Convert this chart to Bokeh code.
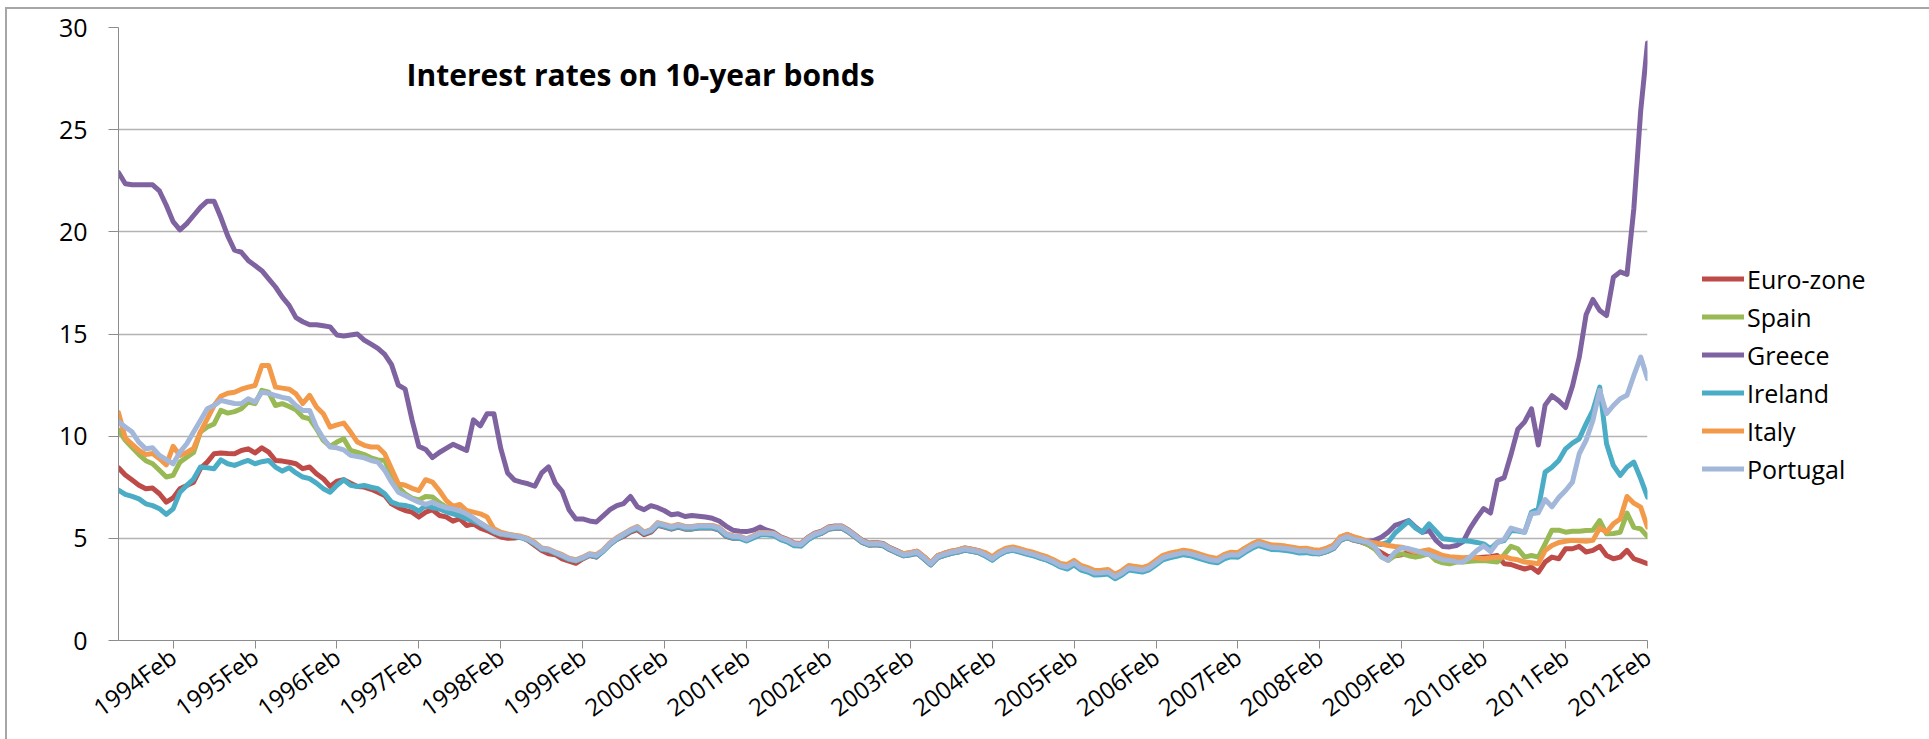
import pandas as pd
from bokeh.plotting import figure
from bokeh.models import Legend, LegendItem, Label, FixedTicker, Range1d
from bokeh.embed import file_html
from bokeh.resources import INLINE

# ---------------- data (monthly, 1993 Jun .. 2012 Feb) ----------------
months = [p.strftime("%Y%b") for p in pd.period_range("1993-06", "2012-02", freq="M")]

euro_zone = [
    8.45, 8.1, 7.85, 7.6, 7.43, 7.46, 7.18,
    6.77, 6.98, 7.43, 7.59, 7.75, 8.41, 8.73, 9.14, 9.18, 9.15, 9.14, 9.3,
    9.38, 9.18, 9.43, 9.22, 8.81, 8.78, 8.72, 8.65, 8.41, 8.49, 8.16, 7.92,
    7.54, 7.8, 7.87, 7.7, 7.54, 7.51, 7.4, 7.26, 7.1, 6.69, 6.5, 6.36,
    6.28, 6.04, 6.28, 6.4, 6.12, 6.05, 5.84, 5.96, 5.63, 5.71, 5.5, 5.38,
    5.22, 5.06, 5.0, 5.02, 5.06, 4.89, 4.65, 4.4, 4.24, 4.2, 3.99, 3.88,
    3.78, 3.99, 4.16, 4.08, 4.4, 4.7, 4.95, 5.1, 5.3, 5.42, 5.18, 5.3,
    5.64, 5.55, 5.45, 5.55, 5.45, 5.45, 5.5, 5.5, 5.5, 5.4, 5.1, 5.0,
    5.02, 4.89, 5.04, 5.19, 5.19, 5.16, 4.96, 4.84, 4.66, 4.64, 4.94, 5.14,
    5.24, 5.44, 5.49, 5.49, 5.29, 5.04, 4.79, 4.66, 4.69, 4.64, 4.44, 4.29,
    4.15, 4.2, 4.27, 4.0, 3.7, 4.05, 4.17, 4.27, 4.33, 4.43, 4.37, 4.3,
    4.15, 3.95, 4.2, 4.37, 4.43, 4.35, 4.25, 4.17, 4.05, 3.95, 3.8, 3.62,
    3.55, 3.75, 3.5, 3.4, 3.25, 3.27, 3.3, 3.07, 3.25, 3.5, 3.45, 3.4,
    3.51, 3.75, 4.0, 4.1, 4.17, 4.25, 4.2, 4.1, 4.0, 3.9, 3.85, 4.05,
    4.15, 4.13, 4.35, 4.55, 4.7, 4.6, 4.5, 4.49, 4.45, 4.4, 4.33, 4.35,
    4.27, 4.25, 4.35, 4.5, 4.9, 5.03, 4.9, 4.83, 4.7, 4.5, 4.3, 4.1,
    4.15, 4.2, 4.3, 4.25, 4.2, 4.25, 4.1, 3.95, 3.9, 3.95, 4.0, 4.05,
    4.05, 4.08, 4.1, 4.16, 3.76, 3.72, 3.6, 3.5, 3.59, 3.34, 3.84, 4.08,
    4.0, 4.49, 4.49, 4.61, 4.33, 4.41, 4.61, 4.16, 4.0, 4.08, 4.41, 4.0,
    3.88, 3.76,
]

spain = [
    10.3, 9.8, 9.45, 9.1, 8.8, 8.65, 8.33,
    8.0, 8.08, 8.73, 8.97, 9.2, 10.2, 10.45, 10.6, 11.26, 11.13, 11.2, 11.34,
    11.67, 11.59, 12.24, 12.15, 11.5, 11.59, 11.45, 11.29, 10.93, 10.85, 10.36, 9.79,
    9.5, 9.71, 9.87, 9.3, 9.2, 9.1, 8.94, 8.84, 8.81, 8.08, 7.5, 7.18,
    6.97, 6.88, 7.05, 7.02, 6.75, 6.53, 6.35, 6.28, 6.15, 5.95, 5.75, 5.55,
    5.33, 5.2, 5.16, 5.1, 5.04, 4.93, 4.73, 4.48, 4.43, 4.28, 4.14, 3.98,
    3.9, 4.03, 4.2, 4.14, 4.38, 4.73, 4.98, 5.18, 5.38, 5.53, 5.26, 5.38,
    5.72, 5.63, 5.53, 5.63, 5.53, 5.53, 5.58, 5.58, 5.58, 5.48, 5.18, 5.08,
    5.06, 4.93, 5.08, 5.23, 5.23, 5.2, 5.0, 4.88, 4.7, 4.68, 4.98, 5.18,
    5.28, 5.48, 5.53, 5.53, 5.33, 5.08, 4.83, 4.7, 4.73, 4.68, 4.48, 4.33,
    4.18, 4.23, 4.3, 4.03, 3.73, 4.08, 4.2, 4.3, 4.36, 4.46, 4.4, 4.33,
    4.18, 3.98, 4.23, 4.4, 4.46, 4.38, 4.28, 4.2, 4.08, 3.98, 3.83, 3.65,
    3.58, 3.78, 3.53, 3.43, 3.28, 3.3, 3.33, 3.1, 3.28, 3.53, 3.48, 3.43,
    3.54, 3.78, 4.03, 4.13, 4.2, 4.28, 4.23, 4.13, 4.03, 3.93, 3.88, 4.08,
    4.18, 4.16, 4.38, 4.58, 4.73, 4.63, 4.53, 4.52, 4.48, 4.43, 4.36, 4.38,
    4.3, 4.28, 4.38, 4.53, 4.93, 5.05, 4.92, 4.85, 4.7, 4.5, 4.1, 3.92,
    4.16, 4.24, 4.15, 4.08, 4.15, 4.24, 3.92, 3.8, 3.75, 3.84, 3.84, 3.88,
    3.9, 3.92, 3.88, 3.84, 4.2, 4.61, 4.49, 4.08, 4.16, 4.08, 4.73, 5.4,
    5.4, 5.3, 5.35, 5.35, 5.38, 5.4, 5.87, 5.22, 5.24, 5.3, 6.23, 5.54,
    5.46, 5.09,
]

greece = [
    22.9, 22.35, 22.3, 22.3, 22.3, 22.3, 22.0,
    21.3, 20.5, 20.1, 20.4, 20.8, 21.2, 21.5, 21.5, 20.7, 19.8, 19.1, 19.0,
    18.6, 18.35, 18.1, 17.7, 17.3, 16.8, 16.4, 15.8, 15.6, 15.45, 15.45, 15.4,
    15.35, 14.95, 14.9, 14.95, 15.0, 14.7, 14.5, 14.3, 14.0, 13.5, 12.5, 12.3,
    10.8, 9.5, 9.35, 8.95, 9.2, 9.4, 9.6, 9.45, 9.3, 10.8, 10.5, 11.1,
    11.1, 9.4, 8.2, 7.85, 7.75, 7.67, 7.55, 8.2, 8.5, 7.7, 7.3, 6.4,
    5.95, 5.95, 5.85, 5.8, 6.1, 6.4, 6.6, 6.7, 7.05, 6.55, 6.4, 6.6,
    6.5, 6.35, 6.15, 6.2, 6.07, 6.12, 6.08, 6.04, 5.98, 5.85, 5.6, 5.4,
    5.35, 5.33, 5.4, 5.55, 5.4, 5.3, 5.07, 4.95, 4.77, 4.75, 5.05, 5.25,
    5.35, 5.55, 5.6, 5.6, 5.4, 5.15, 4.9, 4.77, 4.8, 4.75, 4.55, 4.4,
    4.25, 4.3, 4.37, 4.1, 3.8, 4.15, 4.27, 4.37, 4.43, 4.53, 4.47, 4.4,
    4.26, 4.06, 4.31, 4.48, 4.54, 4.46, 4.36, 4.28, 4.16, 4.06, 3.91, 3.73,
    3.67, 3.87, 3.62, 3.52, 3.37, 3.39, 3.42, 3.2, 3.38, 3.63, 3.58, 3.53,
    3.64, 3.88, 4.13, 4.23, 4.3, 4.38, 4.33, 4.23, 4.13, 4.03, 3.98, 4.18,
    4.28, 4.26, 4.48, 4.68, 4.83, 4.73, 4.63, 4.62, 4.58, 4.53, 4.46, 4.48,
    4.42, 4.4, 4.5, 4.65, 5.05, 5.18, 5.05, 4.95, 4.85, 4.9, 5.05, 5.3,
    5.63, 5.75, 5.87, 5.55, 5.3, 5.38, 4.9, 4.6, 4.58, 4.65, 4.84, 5.49,
    6.0, 6.46, 6.24, 7.83, 7.97, 9.1, 10.34, 10.7, 11.34, 9.57, 11.52, 11.98,
    11.73, 11.4, 12.44, 13.86, 15.94, 16.69, 16.15, 15.9, 17.78, 18.04, 17.92, 21.14,
    25.91, 29.24,
]

ireland = [
    7.36, 7.15, 7.05, 6.93, 6.69, 6.6, 6.45,
    6.17, 6.44, 7.26, 7.59, 7.9, 8.49, 8.45, 8.41, 8.84, 8.65, 8.57, 8.7,
    8.81, 8.65, 8.75, 8.81, 8.49, 8.29, 8.45, 8.2, 8.0, 7.92, 7.7, 7.43,
    7.26, 7.6, 7.87, 7.6, 7.54, 7.59, 7.5, 7.43, 7.18, 6.77, 6.65, 6.61,
    6.53, 6.33, 6.61, 6.5, 6.44, 6.3, 6.2, 6.1, 5.95, 5.85, 5.7, 5.5,
    5.32, 5.2, 5.15, 5.1, 5.03, 4.92, 4.72, 4.47, 4.42, 4.27, 4.12, 3.97,
    3.9, 4.03, 4.18, 4.1, 4.35, 4.7, 4.95, 5.15, 5.35, 5.5, 5.24, 5.35,
    5.66, 5.57, 5.47, 5.57, 5.47, 5.47, 5.52, 5.52, 5.52, 5.42, 5.12, 5.02,
    5.0, 4.87, 5.02, 5.17, 5.17, 5.14, 4.94, 4.82, 4.64, 4.62, 4.92, 5.12,
    5.25, 5.45, 5.5, 5.5, 5.3, 5.05, 4.8, 4.67, 4.7, 4.65, 4.45, 4.3,
    4.15, 4.2, 4.27, 4.0, 3.7, 4.05, 4.17, 4.27, 4.33, 4.43, 4.37, 4.3,
    4.13, 3.93, 4.18, 4.35, 4.41, 4.33, 4.23, 4.15, 4.03, 3.93, 3.78, 3.6,
    3.5, 3.7, 3.45, 3.35, 3.2, 3.22, 3.25, 3.02, 3.2, 3.45, 3.4, 3.35,
    3.46, 3.7, 3.95, 4.05, 4.12, 4.2, 4.15, 4.05, 3.95, 3.85, 3.8, 4.0,
    4.1, 4.08, 4.3, 4.5, 4.65, 4.55, 4.45, 4.44, 4.4, 4.35, 4.28, 4.3,
    4.25, 4.25, 4.35, 4.5, 4.9, 5.05, 4.92, 4.85, 4.8, 4.75, 4.7, 4.81,
    5.25, 5.55, 5.84, 5.5, 5.3, 5.71, 5.35, 4.98, 4.94, 4.9, 4.88, 4.86,
    4.8, 4.73, 4.49, 4.81, 4.89, 5.38, 5.36, 5.3, 6.28, 6.44, 8.24, 8.48,
    8.81, 9.38, 9.66, 9.87, 10.6, 11.26, 12.4, 9.63, 8.57, 8.08, 8.49, 8.73,
    7.92, 7.02,
]

italy = [
    11.15, 9.9, 9.6, 9.3, 9.1, 9.15, 8.9,
    8.6, 9.5, 9.06, 9.2, 9.4, 10.2, 10.85, 11.5, 11.95, 12.1, 12.15, 12.3,
    12.4, 12.48, 13.46, 13.46, 12.4, 12.35, 12.3, 12.07, 11.6, 12.0, 11.43, 11.1,
    10.44, 10.55, 10.64, 10.2, 9.71, 9.55, 9.47, 9.47, 9.14, 8.4, 7.67, 7.6,
    7.45, 7.34, 7.87, 7.75, 7.34, 6.86, 6.56, 6.66, 6.36, 6.28, 6.2, 6.04,
    5.47, 5.3, 5.22, 5.15, 5.1, 5.0, 4.8, 4.53, 4.48, 4.33, 4.2, 4.03,
    3.95, 4.08, 4.25, 4.2, 4.43, 4.78, 5.03, 5.23, 5.43, 5.58, 5.3, 5.43,
    5.77, 5.68, 5.58, 5.68, 5.58, 5.58, 5.63, 5.63, 5.63, 5.53, 5.23, 5.13,
    5.11, 4.98, 5.13, 5.28, 5.28, 5.25, 5.05, 4.93, 4.75, 4.73, 5.03, 5.23,
    5.33, 5.53, 5.58, 5.58, 5.38, 5.13, 4.88, 4.75, 4.78, 4.73, 4.53, 4.38,
    4.25, 4.3, 4.37, 4.1, 3.8, 4.15, 4.27, 4.37, 4.43, 4.53, 4.47, 4.4,
    4.3, 4.1, 4.35, 4.52, 4.58, 4.5, 4.4, 4.32, 4.2, 4.1, 3.95, 3.77,
    3.72, 3.92, 3.67, 3.57, 3.42, 3.44, 3.47, 3.24, 3.42, 3.67, 3.62, 3.57,
    3.68, 3.92, 4.17, 4.27, 4.34, 4.42, 4.37, 4.27, 4.17, 4.07, 4.02, 4.22,
    4.32, 4.3, 4.52, 4.72, 4.87, 4.77, 4.67, 4.66, 4.62, 4.57, 4.5, 4.52,
    4.44, 4.42, 4.52, 4.67, 5.07, 5.2, 5.07, 4.98, 4.85, 4.78, 4.73, 4.65,
    4.6, 4.57, 4.45, 4.33, 4.38, 4.44, 4.3, 4.16, 4.1, 4.08, 4.05, 4.08,
    4.05, 4.0, 4.05, 4.08, 4.1, 4.0, 3.95, 3.84, 3.8, 3.76, 4.4, 4.65,
    4.8, 4.86, 4.9, 4.88, 4.86, 4.9, 5.5, 5.3, 5.71, 5.95, 7.05, 6.72,
    6.53, 5.54,
]

portugal = [
    10.7, 10.45, 10.2, 9.7, 9.38, 9.43, 9.06,
    8.85, 8.65, 9.22, 9.63, 10.2, 10.77, 11.34, 11.5, 11.75, 11.67, 11.6, 11.59,
    11.83, 11.67, 12.15, 12.1, 11.99, 11.9, 11.83, 11.5, 11.26, 11.26, 10.44, 9.9,
    9.47, 9.43, 9.33, 9.06, 9.0, 8.94, 8.81, 8.73, 8.33, 7.75, 7.26, 7.1,
    6.93, 6.77, 6.66, 6.77, 6.61, 6.5, 6.44, 6.35, 6.2, 6.0, 5.75, 5.55,
    5.35, 5.22, 5.18, 5.12, 5.06, 4.95, 4.75, 4.5, 4.45, 4.3, 4.16, 4.0,
    3.92, 4.05, 4.22, 4.16, 4.4, 4.75, 5.0, 5.2, 5.4, 5.55, 5.28, 5.4,
    5.74, 5.65, 5.55, 5.65, 5.55, 5.55, 5.6, 5.6, 5.6, 5.5, 5.2, 5.1,
    5.08, 4.95, 5.1, 5.25, 5.25, 5.22, 5.02, 4.9, 4.72, 4.7, 5.0, 5.2,
    5.3, 5.5, 5.55, 5.55, 5.35, 5.1, 4.85, 4.72, 4.75, 4.7, 4.5, 4.35,
    4.2, 4.25, 4.32, 4.05, 3.75, 4.1, 4.22, 4.32, 4.38, 4.48, 4.42, 4.35,
    4.2, 4.0, 4.25, 4.42, 4.48, 4.4, 4.3, 4.22, 4.1, 4.0, 3.85, 3.67,
    3.6, 3.8, 3.55, 3.45, 3.3, 3.32, 3.35, 3.12, 3.3, 3.55, 3.5, 3.45,
    3.56, 3.8, 4.05, 4.15, 4.22, 4.3, 4.25, 4.15, 4.05, 3.95, 3.9, 4.1,
    4.2, 4.18, 4.4, 4.6, 4.75, 4.65, 4.55, 4.54, 4.5, 4.45, 4.38, 4.4,
    4.32, 4.3, 4.4, 4.55, 4.95, 5.08, 4.95, 4.88, 4.8, 4.6, 4.1, 3.92,
    4.32, 4.54, 4.5, 4.41, 4.3, 4.2, 4.08, 3.95, 3.92, 3.86, 3.84, 4.08,
    4.4, 4.63, 4.35, 4.79, 4.95, 5.5, 5.4, 5.3, 6.2, 6.25, 6.9, 6.55,
    7.0, 7.34, 7.75, 9.14, 9.79, 10.77, 12.24, 11.1, 11.5, 11.83, 12.0, 12.97,
    13.87, 12.81,
]

series_names = ["Euro-zone", "Spain", "Greece", "Ireland", "Italy", "Portugal"]
series_values = [euro_zone, spain, greece, ireland, italy, portugal]
series_colors = ["#BE4B48", "#98B954", "#7F63A1", "#4BACC6", "#F39A4A", "#A2B7DA"]
y_ticks = [0, 5, 10, 15, 20, 25, 30]
title_text = "Interest rates on 10-year bonds"

# ---------------- figure ----------------
n = len(months)
x = list(range(n))
tick_idx = [i for i, m in enumerate(months) if m.endswith("Feb")]
tick_labels = {i: months[i] for i in tick_idx}

FONT = "Open Sans"
FRAME_W, FRAME_H = 1529, 613

p = figure(frame_width=FRAME_W, frame_height=FRAME_H,
           output_backend="svg", toolbar_location=None,
           x_range=Range1d(0, n - 1), y_range=Range1d(0, 30),
           min_border_left=111, min_border_right=272, min_border_top=18, min_border_bottom=99,
           margin=(7, 0, 0, 5),
           styles={"border-left": "2px solid #a6a6a6", "border-top": "2px solid #a6a6a6",
                   "border-right": "2px solid #a6a6a6"})
p.outline_line_color = None
p.background_fill_color = "white"
p.border_fill_color = "white"

renderers = []
for name, vals, col in zip(series_names, series_values, series_colors):
    r = p.line(x[:len(vals)], vals, line_color=col, line_width=5,
               line_join="round", line_cap="round")
    renderers.append(r)

# axes
p.xaxis.ticker = FixedTicker(ticks=tick_idx)
p.xaxis.major_label_overrides = tick_labels
p.xaxis.major_label_orientation = 0.63
p.xaxis.minor_tick_line_color = None
p.xaxis.major_tick_out = 8
p.xaxis.major_tick_in = 0
p.xaxis.major_label_standoff = 5
p.xaxis.axis_line_color = "#8c8c8c"
p.xaxis.major_tick_line_color = "#8c8c8c"
p.xaxis.major_label_text_font = FONT
p.xaxis.major_label_text_font_size = "24px"
p.xaxis.major_label_text_color = "black"

p.yaxis.ticker = FixedTicker(ticks=y_ticks)
p.yaxis.minor_tick_line_color = None
p.yaxis.major_tick_out = 10
p.yaxis.major_tick_in = 0
p.yaxis.major_label_standoff = 21
p.yaxis.axis_line_color = "#8c8c8c"
p.yaxis.major_tick_line_color = "#8c8c8c"
p.yaxis.major_label_text_font = FONT
p.yaxis.major_label_text_font_size = "25px"
p.yaxis.major_label_text_color = "black"

p.xgrid.visible = False
p.ygrid.ticker = FixedTicker(ticks=y_ticks)
p.ygrid.grid_line_color = "#b3b3b3"
p.ygrid.grid_line_width = 1.5

# title inside plot area
p.add_layout(Label(x=288, y=566, x_units="screen", y_units="screen", text=title_text,
                   text_font=FONT, text_font_style="bold", text_font_size="30px",
                   text_color="black", text_baseline="middle"))

# legend in the right-hand panel; a blank title pushes the entries down
items = [LegendItem(label=nm, renderers=[r]) for nm, r in zip(series_names, renderers)]
legend = Legend(items=items, location="center_left", padding=0, margin=55, spacing=2,
                glyph_width=42, glyph_height=36, label_height=36, label_standoff=3,
                label_text_font=FONT, label_text_font_size="25px", label_text_color="black",
                title=" ", title_text_font_size="20px", title_standoff=56,
                border_line_alpha=0, background_fill_alpha=0)
p.add_layout(legend, "right")

open("out.html", "w").write(file_html(p, INLINE))
